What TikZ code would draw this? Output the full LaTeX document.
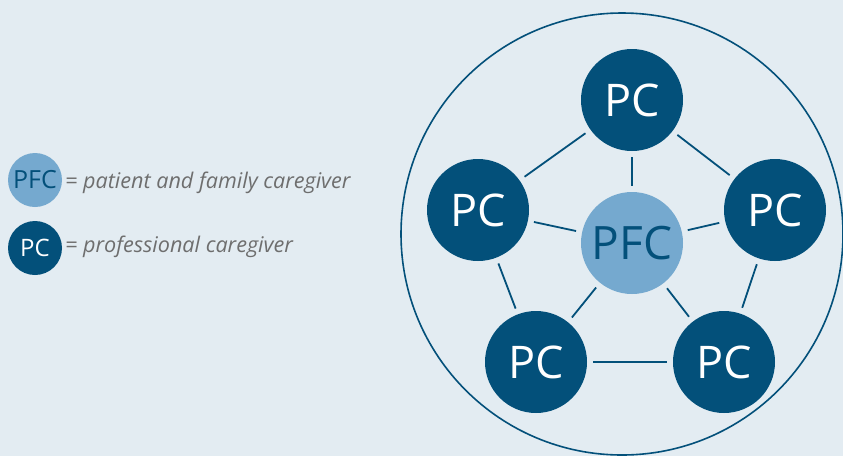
\documentclass[tikz,border=0pt]{standalone}
\usepackage{fontspec}
\setmainfont{Open Sans}
\definecolor{bg}{HTML}{E3ECF2}
\definecolor{dblue}{HTML}{03507A}
\definecolor{lblue}{HTML}{75A9CF}
\definecolor{tgrey}{HTML}{6E6E6E}
\begin{document}
\begin{tikzpicture}[x=1pt,y=-1pt,
  pc/.style={circle,fill=dblue,text=white,minimum size=102pt,inner sep=0pt,font=\fontsize{45}{45}\selectfont},
  pfc/.style={circle,fill=lblue,text=dblue,minimum size=102pt,inner sep=0pt,font=\fontsize{46}{46}\selectfont},
  lpc/.style={circle,fill=dblue,text=white,minimum size=54pt,inner sep=0pt,font=\fontsize{24}{24}\selectfont},
  lpfc/.style={circle,fill=lblue,text=dblue,minimum size=54pt,inner sep=0pt,font=\fontsize{25}{25}\selectfont},
  legtext/.style={anchor=base west,inner sep=0pt,text=tgrey,font=\fontsize{21.6}{21.6}\selectfont\itshape},
  link/.style={draw=dblue,line width=1.8pt,shorten >=6pt,shorten <=6pt}]
\fill[bg] (0,0) rectangle (843,456);
\useasboundingbox (0,0) rectangle (843,456);
\begin{scope}
\clip (0,0) rectangle (843,456);
\node[circle,draw=dblue,line width=1.6pt,minimum size=442pt,inner sep=0pt] (outer) at (622,234) {};
\end{scope}
\node[pfc] (c) at (632,243) {PFC};
\node[pc] (t) at (632,100) {PC};
\node[pc] (l) at (478,210) {PC};
\node[pc] (r) at (775,210) {PC};
\node[pc] (bl) at (536,362) {PC};
\node[pc] (br) at (724,362) {PC};
\foreach \a/\b in {t/l,t/r,l/bl,r/br,bl/br,c/t,c/l,c/r,c/bl,c/br}
  \draw[link] (\a) -- (\b);
\node[lpfc] (k1) at (35,180) {PFC};
\node[lpc] (k2) at (35,248) {PC};
\node[legtext] (t1) at (65,188) {= patient and family caregiver};
\node[legtext] (t2) at (65,252) {= professional caregiver};
\end{tikzpicture}
\end{document}
